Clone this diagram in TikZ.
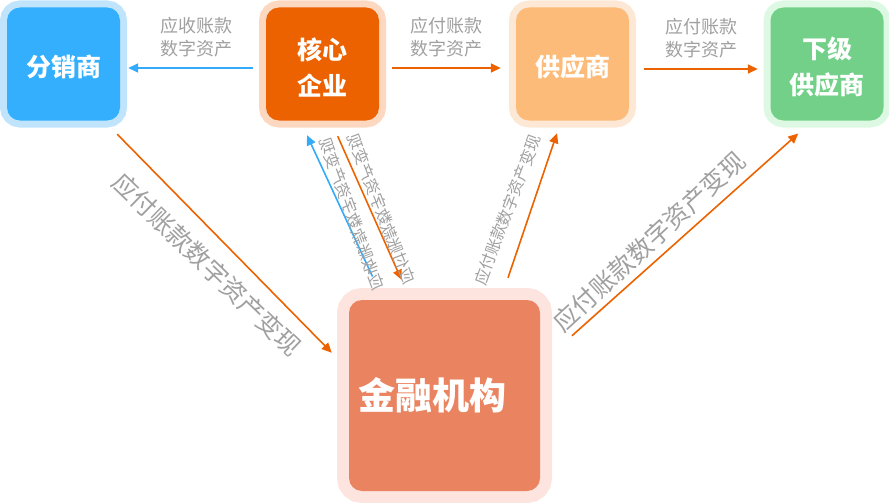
\documentclass[tikz,border=0pt]{standalone}
\usepackage{fontspec}
\setmainfont{Noto Sans CJK SC}
\usepackage{tikz}
\usetikzlibrary{shapes.geometric, arrows.meta}
\definecolor{distblue}{HTML}{33AFFD}
\definecolor{disthalo}{HTML}{C0E4FC}
\definecolor{coreorange}{HTML}{EC6200}
\definecolor{corehalo}{HTML}{FDD8C0}
\definecolor{supplyorange}{HTML}{FCBB78}
\definecolor{supplyhalo}{HTML}{FDE8D6}
\definecolor{subgreen}{HTML}{72D088}
\definecolor{subhalo}{HTML}{DEF9E3}
\definecolor{bankred}{HTML}{EA8360}
\definecolor{bankhalo}{HTML}{FDE4DE}
\definecolor{lineblue}{HTML}{33AAFA}
\definecolor{notegray}{HTML}{A0A0A0}
\newcommand{\boxlift}{\rule{0pt}{28pt}}
\tikzstyle{party} = [rectangle, rounded corners=13pt, minimum width=113pt, minimum height=113pt, inner sep=0pt, text centered, align=center, text=white, font=\fontsize{25}{36}\selectfont\bfseries]
\tikzstyle{bankbox} = [rectangle, rounded corners=13pt, minimum width=191pt, minimum height=191pt, inner xsep=9pt, inner ysep=0pt, text width=173pt, align=left, text=white, font=\fontsize{37}{44}\selectfont\bfseries]
\tikzset{halo/.style 2 args={preaction={draw=#1, line width=#2}}}
\tikzstyle{note} = [text=notegray, align=center, font=\fontsize{18}{23}\selectfont]
\tikzstyle{tilt} = [text=notegray, inner sep=0pt, font=\fontsize{16}{16}\selectfont]
\tikzstyle{bigtilt} = [text=notegray, inner sep=0pt, font=\fontsize{25}{25}\selectfont]
\tikzstyle{arrowo} = [line width=1.6pt, draw=coreorange, -{Triangle[length=10pt, width=9pt]}]
\tikzstyle{arrowb} = [line width=1.6pt, draw=lineblue, -{Triangle[length=10pt, width=9pt]}]

\begin{document}
\begin{tikzpicture}[x=1pt, y=-1pt, node distance=250pt]
    \useasboundingbox (0,0) rectangle (889,503);
    \node (core) [party, fill=coreorange, halo={corehalo}{14pt}] at (322.5,64) {\boxlift 核心\\企业};
    \node (dist) [party, fill=distblue, halo={disthalo}{14pt}, left of=core, xshift=-9pt] {\boxlift 分销商};
    \node (supplier) [party, fill=supplyorange, halo={supplyhalo}{14pt}, right of=core] {\boxlift 供应商};
    \node (sub) [party, fill=subgreen, halo={subhalo}{14pt}, right of=supplier, xshift=4.5pt] {\boxlift 下级\\供应商};
    \node (bank) [bankbox, fill=bankred, halo={bankhalo}{24pt}] at (444.5,395.5) {金融机构};
    % top row
    \draw [arrowb] ([shift={(-13,4)}]core.west) -- node (n1) [note, above=7pt, xshift=6pt] {应收账款\\数字资产} ([shift={(8,4)}]dist.east);
    \draw [arrowo] ([shift={(13,4)}]core.east) -- node (n2) [note, above=7pt] {应付账款\\数字资产} ([shift={(-15,4)}]supplier.west);
    \draw [arrowo] ([shift={(15,5)}]supplier.east) -- node (n3) [note, above=7pt] {应付账款\\数字资产} ([shift={(-12.5,5)}]sub.west);
    % to and from the bank
    \draw [arrowo] ([shift={(-3,13.5)}]dist.south east) -- node (n4) [bigtilt, shift={(-17,21)}, rotate=-44] {应付账款数字资产变现} ([shift={(-17,53)}]bank.north west);
    \draw [arrowb] ([shift={(23.7,-23.3)}]bank.north west) -- node (n5) [tilt, shift={(12,8)}, xscale=-1, rotate=70] {应收账款数字资产变现} ([shift={(-15.5,14.5)}]core.south);
    \draw [arrowo] ([shift={(15.2,15.5)}]core.south) -- node (n6) [tilt, shift={(11.5,1)}, xscale=-1, rotate=69] {应付账款数字资产变现} ([shift={(52.7,-20)}]bank.north west);
    \draw [arrowo] ([shift={(63.5,-22)}]bank.north) -- node (n7) [tilt, shift={(-25,4.4)}, rotate=69.4] {应付账款数字资产变现} ([shift={(-15.5,12.5)}]supplier.south);
    \draw [arrowo] ([shift={(31.7,36)}]bank.north east) -- node (n8) [bigtilt, shift={(-36,7)}, rotate=42.6] {应付账款数字资产变现} ([shift={(-28.7,12.8)}]sub.south);
\end{tikzpicture}
\end{document}
